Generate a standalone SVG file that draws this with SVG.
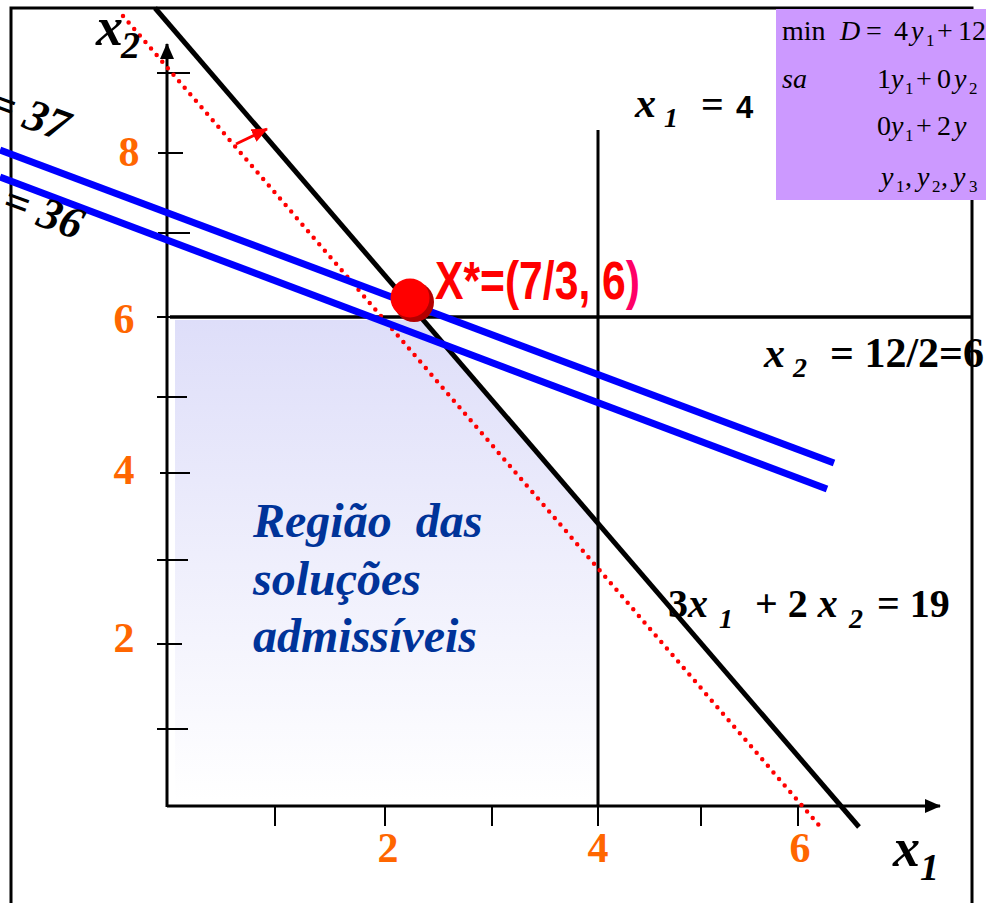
<svg xmlns="http://www.w3.org/2000/svg" width="986" height="903" viewBox="0 0 986 903">
<defs>
<linearGradient id="reg" x1="0" y1="0" x2="0" y2="1">
<stop offset="0" stop-color="#dedef9"/>
<stop offset="1" stop-color="#ffffff"/>
</linearGradient>
<marker id="ah" markerWidth="16" markerHeight="14" refX="15" refY="7" orient="auto" markerUnits="userSpaceOnUse" viewBox="0 0 16 14">
<path d="M0,0 L16,7 L0,14 z" fill="#ff0000"/>
</marker>
<marker id="axh" markerWidth="16" markerHeight="16" refX="15" refY="7" orient="auto" markerUnits="userSpaceOnUse" viewBox="0 0 16 14">
<path d="M0,0 L16,7 L0,14 z" fill="#000"/>
</marker>
<style>
.ax{stroke:#000;stroke-width:3;fill:none}
.tk{stroke:#000;stroke-width:2;fill:none}
.blk{stroke:#000;stroke-width:5;fill:none}
.blue{stroke:#0000ff;stroke-width:7;fill:none}
.dot{stroke:#ff0000;stroke-width:4.5;stroke-linecap:round;stroke-dasharray:0 8.6;fill:none}
.or{font-family:"Liberation Serif","Times New Roman",serif;font-weight:bold;font-size:42px;fill:#ff6600;text-anchor:middle}
.bi{font-family:"Liberation Serif","Times New Roman",serif;font-weight:bold;font-style:italic;fill:#000}
.b{font-family:"Liberation Serif","Times New Roman",serif;font-weight:bold;fill:#000}
.pm{font-family:"Liberation Serif","Times New Roman",serif;font-size:28px;fill:#000}
.it{font-style:italic}
.sb{font-size:17px}
.reg{font-family:"Liberation Serif","Times New Roman",serif;font-weight:bold;font-style:italic;font-size:48px;fill:#003399}
</style>
</defs>
<rect width="986" height="903" fill="#fff"/>
<g id="frame">
<path d="M11,903 V8 H972 V903" class="ax"/>
</g>
<g id="region">
<polygon points="175,320 421,320 598,524 598,800 175,800" fill="url(#reg)"/>
</g>
<g id="axes">
<line x1="167" y1="807" x2="167" y2="44" class="ax" marker-end="url(#axh)"/>
<line x1="167" y1="806" x2="940" y2="806" class="ax" marker-end="url(#axh)"/>
<path class="tk" d="M157,73H190 M158,153H183 M158,233H190 M157,317H190 M157,397H187 M160,473H190 M157,560H188 M157,644H182 M157,729H188"/>
<path class="tk" d="M275,806V826 M385,806V826 M492,806V826 M598,806V826 M701,806V826 M798,806V826"/>
</g>
<g id="constraints">
<line x1="170" y1="317" x2="972" y2="317" class="blk" style="stroke-width:3.5"/>
<line x1="598" y1="130" x2="598" y2="806" class="blk" style="stroke-width:3"/>
<line x1="155" y1="8" x2="859" y2="827" class="blk"/>
</g>
<g id="objective">
<line x1="123" y1="16" x2="823" y2="830" class="dot"/>
<line x1="236" y1="144" x2="267" y2="129" stroke="#ff0000" stroke-width="3" marker-end="url(#ah)"/>
<line x1="0" y1="150" x2="834" y2="463" class="blue"/>
<line x1="0" y1="177" x2="827" y2="489" class="blue"/>
</g>
<g id="optimum">
<circle cx="414" cy="302" r="20" fill="#b30000"/>
<circle cx="410" cy="298" r="19.5" fill="#ff0000"/>
<text x="435" y="299" font-family="'Liberation Sans',Arial,sans-serif" font-weight="bold" font-size="53" fill="#ff0000" textLength="205" lengthAdjust="spacingAndGlyphs">X*=(7/3, 6<tspan fill="#ff0066">)</tspan></text>
</g>
<g id="ylabels">
<text class="or" x="129" y="166">8</text>
<text class="or" x="124" y="333">6</text>
<text class="or" x="124" y="484">4</text>
<text class="or" x="124" y="652">2</text>
<text class="or" x="388" y="862">2</text>
<text class="or" x="598" y="862">4</text>
<text class="or" x="800" y="862">6</text>
</g>
<g id="axislabels">
<text class="bi" x="96" y="45" font-size="54">x</text>
<text class="bi" x="121" y="58" font-size="38">2</text>
<text class="bi" x="893" y="866" font-size="54">x</text>
<text class="bi" x="920" y="880" font-size="38">1</text>
</g>
<g id="lbl-x1">
<text class="bi" x="635" y="117" font-size="42">x</text>
<text class="bi" x="664" y="127" font-size="28">1</text>
<text class="b" x="701" y="118" font-size="40">=</text>
<text x="736" y="118" font-family="'Liberation Sans',Arial,sans-serif" font-weight="bold" font-size="31">4</text>
</g>
<g id="lbl-x2">
<text class="bi" x="764" y="367" font-size="42">x</text>
<text class="bi" x="793" y="377" font-size="28">2</text>
<text class="b" x="830" y="367" font-size="42" xml:space="preserve">= 12/2=6</text>
</g>
<g id="lbl-c">
<text class="b" x="668" y="617" font-size="40">3<tspan class="it">x</tspan></text>
<text class="bi" x="719" y="628" font-size="28">1</text>
<text class="b" x="755" y="617" font-size="40">+ 2 <tspan class="it">x</tspan></text>
<text class="bi" x="849" y="628" font-size="28">2</text>
<text class="b" x="877" y="617" font-size="40">= 19</text>
</g>
<g id="lbl-37">
<text class="bi" font-size="45" transform="translate(-14,114) rotate(20)">= 37</text>
</g>
<g id="lbl-36">
<text class="bi" font-size="45" transform="translate(0,212) rotate(20)">= 36</text>
</g>
<g id="region-label">
<text class="reg" x="253" y="537" xml:space="preserve">Região  das</text>
<text class="reg" x="253" y="595">soluções</text>
<text class="reg" x="253" y="652">admissíveis</text>
</g>
<g id="dual">
<rect x="776" y="9" width="210" height="191" fill="#cc99ff"/>
<text class="pm" y="40"><tspan x="782">min</tspan><tspan x="840" class="it">D</tspan><tspan x="866">=</tspan><tspan x="894">4</tspan><tspan x="911" class="it">y</tspan><tspan x="926" dy="6" class="sb">1</tspan><tspan x="937" dy="-6">+</tspan><tspan x="958">12</tspan></text>
<text class="pm" y="88"><tspan x="782" class="it">sa</tspan><tspan x="877">1</tspan><tspan x="891" class="it">y</tspan><tspan x="905" dy="6" class="sb">1</tspan><tspan x="916" dy="-6">+</tspan><tspan x="937">0</tspan><tspan x="954" class="it">y</tspan><tspan x="969" dy="6" class="sb">2</tspan></text>
<text class="pm" y="135"><tspan x="877">0</tspan><tspan x="891" class="it">y</tspan><tspan x="905" dy="6" class="sb">1</tspan><tspan x="916" dy="-6">+</tspan><tspan x="937">2</tspan><tspan x="954" class="it">y</tspan></text>
<text class="pm" y="186"><tspan x="881" class="it">y</tspan><tspan x="896" dy="6" class="sb">1</tspan><tspan x="905" dy="-6">,</tspan><tspan x="917" class="it">y</tspan><tspan x="932" dy="6" class="sb">2</tspan><tspan x="941" dy="-6">,</tspan><tspan x="953" class="it">y</tspan><tspan x="969" dy="6" class="sb">3</tspan></text>
</g>
</svg>
